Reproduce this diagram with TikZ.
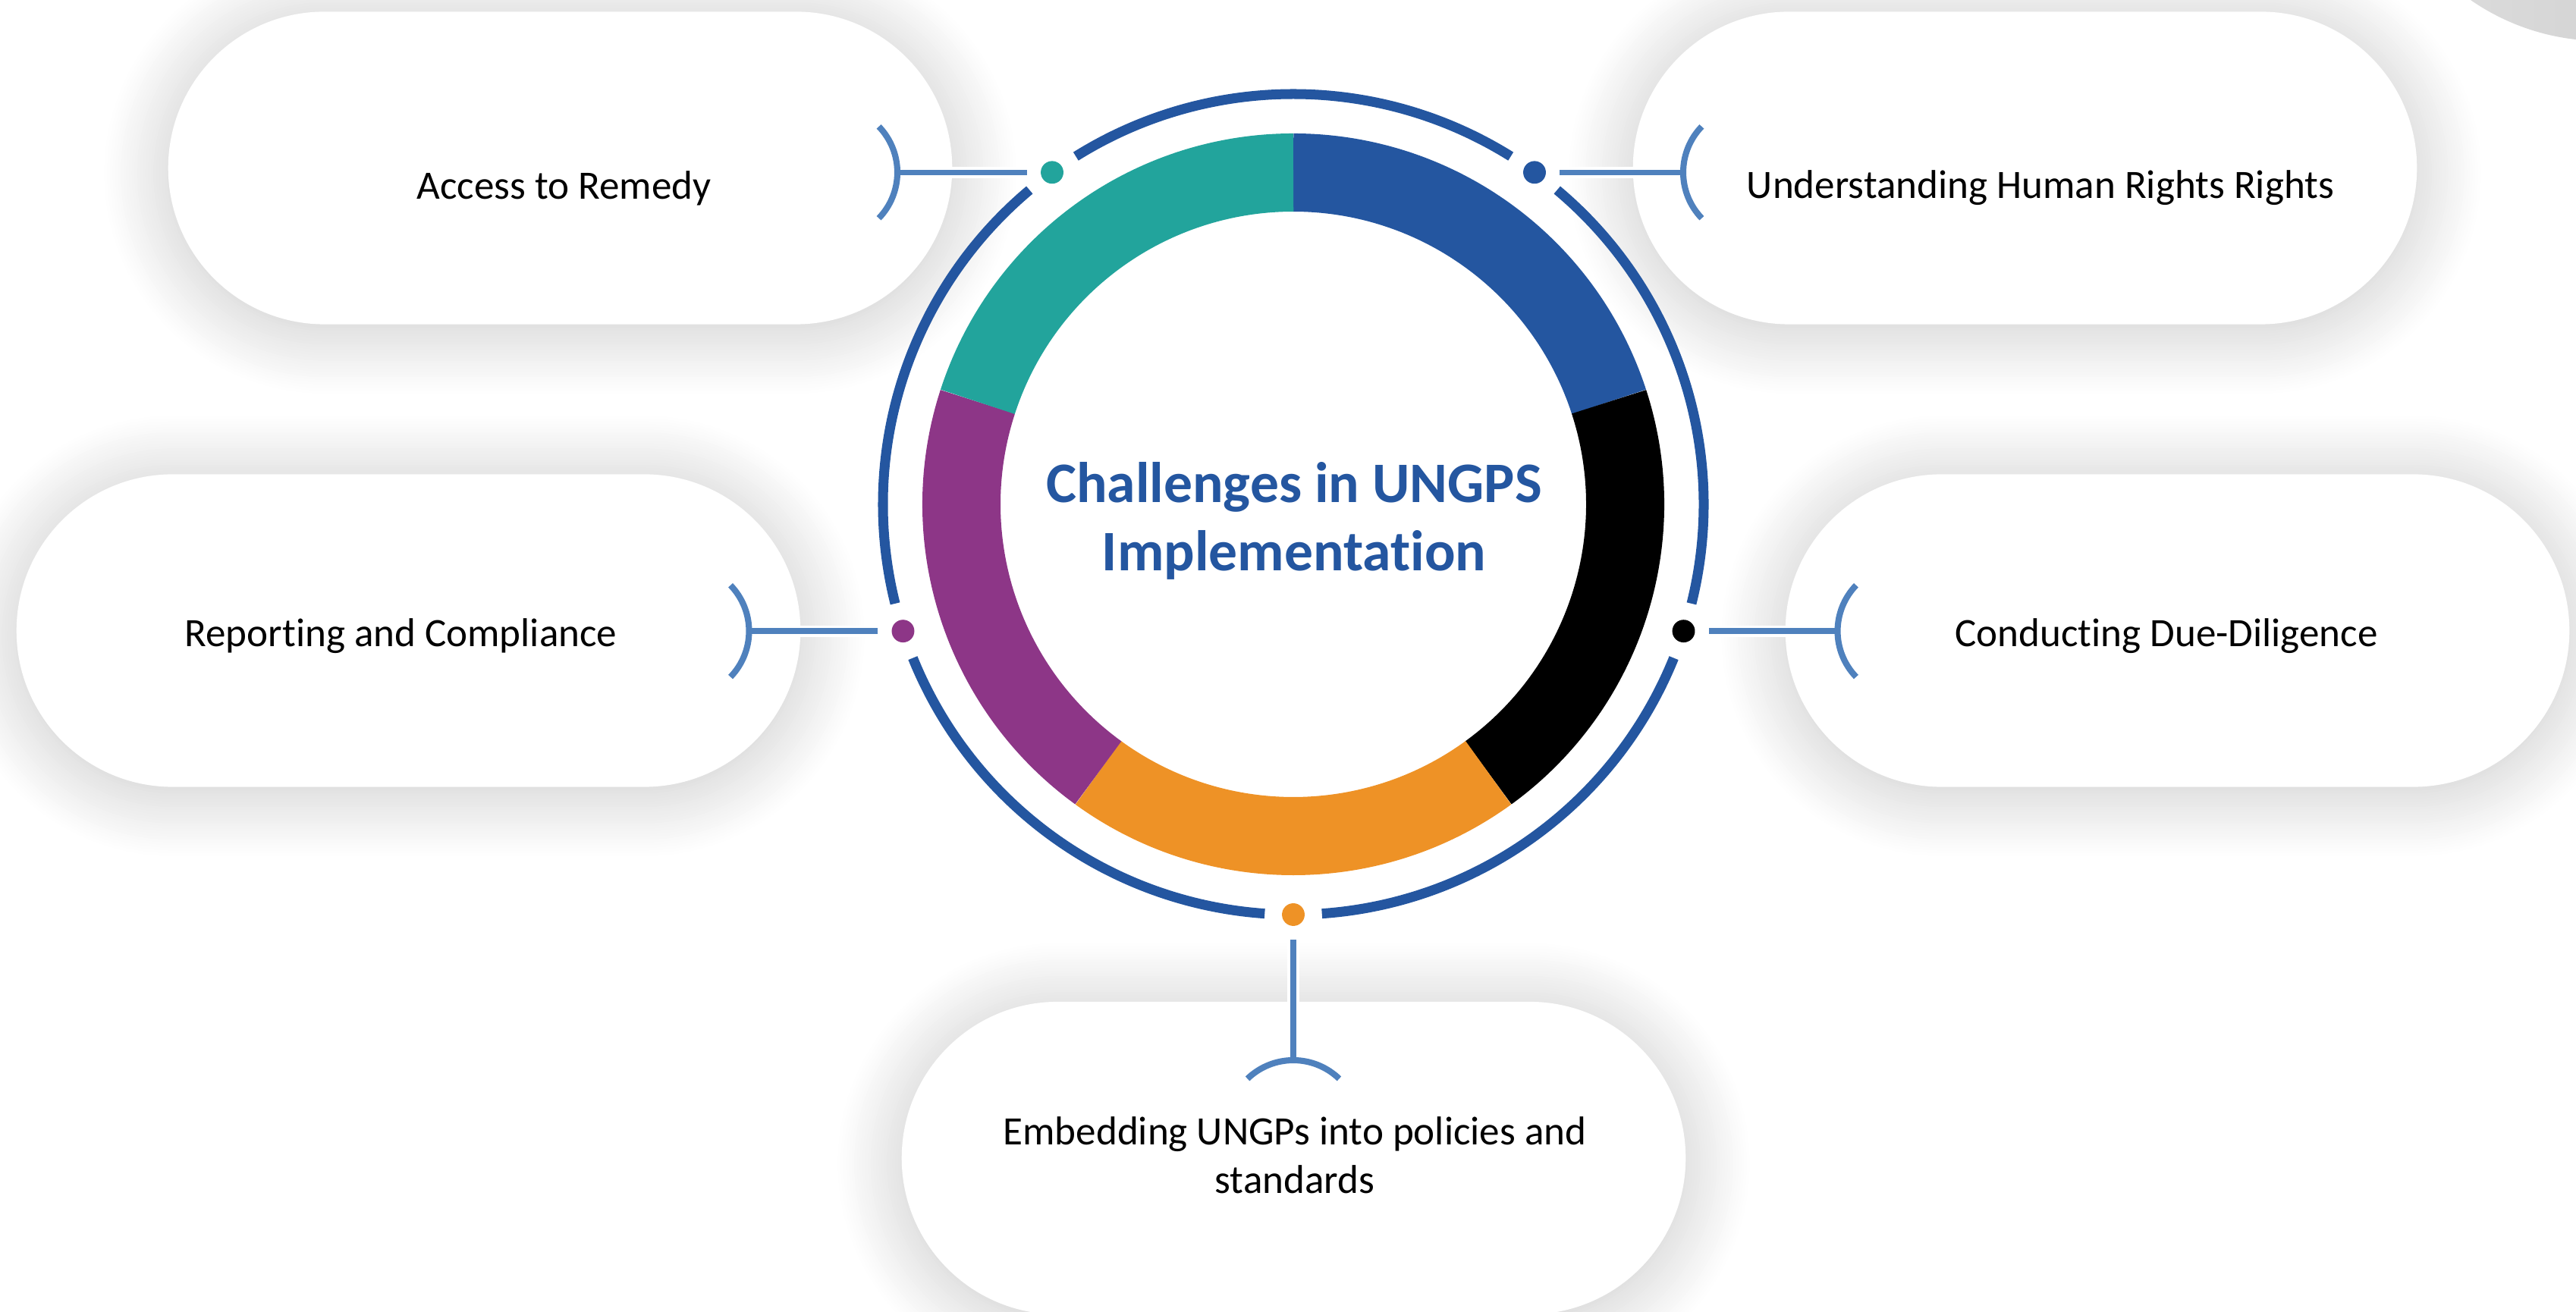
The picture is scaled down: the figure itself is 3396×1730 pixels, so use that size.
\documentclass[tikz,border=0pt]{standalone}
\usepackage{fontspec}
\setmainfont{Carlito}[Ligatures=NoCommon]
\usetikzlibrary{calc,shadows.blur}
\definecolor{ringblue}{RGB}{36,86,160}
\definecolor{segteal}{RGB}{34,164,156}
\definecolor{segpurple}{RGB}{141,54,135}
\definecolor{segorange}{RGB}{238,146,38}
\definecolor{linkblue}{RGB}{79,129,189}
\tikzset{
  pill/.style={fill=white, rounded corners=2.06cm, minimum width=10.33cm, minimum height=4.12cm, inner sep=0pt,
    blur shadow={shadow xshift=0pt, shadow yshift=-2pt, shadow blur radius=24pt, shadow opacity=22, shadow blur steps=24}},
  seg/.style={line width=29.3pt},
  ring/.style={draw=ringblue, line width=3.7pt},
  dot/.style={circle, minimum size=8.5pt, inner sep=0pt},
  link/.style={draw=linkblue, line width=2.1pt, shorten <=5pt, preaction={draw=white, line width=4.3pt}},
  bracket/.style={draw=linkblue, line width=2.3pt},
  lbl/.style={font=\fontsize{15.1pt}{18.2pt}\selectfont, align=center, inner sep=0pt},
  hubtitle/.style={font=\bfseries\fontsize{21.5pt}{25.5pt}\selectfont, text=ringblue, align=center, inner sep=0pt}
}
\begin{document}
\begin{tikzpicture}[x=0.01cm, y=0.01cm]
  \useasboundingbox (0,0) rectangle (3396,1730);
  % corner blob, top right
  \shade[left color=gray!25, right color=gray!42] (3430,1980) circle (304);

  % the five boxes
  \node[pill] (remedy)    at (738.5,1508.5) {};
  \node[pill] (rights)    at (2669.5,1508.5) {};
  \node[pill] (reporting) at (538.5,898.5) {};
  \node[pill] (diligence) at (2870.5,898.5) {};
  \node[pill] (embedding) at (1705.5,203) {};

  % donut
  \coordinate (hub) at (1705,1065);
  \draw[seg, ringblue]  (hub) ++(90:437.5)   arc[start angle=90,   end angle=18,   radius=437.5];
  \draw[seg, black]     (hub) ++(18:437.5)   arc[start angle=18,   end angle=-54,  radius=437.5];
  \draw[seg, segorange] (hub) ++(-54:437.5)  arc[start angle=-54,  end angle=-126, radius=437.5];
  \draw[seg, segpurple] (hub) ++(-126:437.5) arc[start angle=-126, end angle=-198, radius=437.5];
  \draw[seg, segteal]   (hub) ++(162:437.5)  arc[start angle=162,  end angle=90,   radius=437.5];

  % outer ring with gaps at the dots
  \draw[ring] (hub) ++(58:541)  arc[start angle=58,  end angle=122, radius=541];
  \draw[ring] (hub) ++(130:541) arc[start angle=130, end angle=194, radius=541];
  \draw[ring] (hub) ++(202:541) arc[start angle=202, end angle=266, radius=541];
  \draw[ring] (hub) ++(274:541) arc[start angle=274, end angle=338, radius=541];
  \draw[ring] (hub) ++(346:541) arc[start angle=346, end angle=410, radius=541];

  \node[dot, fill=ringblue]  (d-rights)    at ($(hub)+(54:541)$)  {};
  \node[dot, fill=segteal]   (d-remedy)    at ($(hub)+(126:541)$) {};
  \node[dot, fill=segpurple] (d-reporting) at ($(hub)+(198:541)$) {};
  \node[dot, fill=segorange] (d-embedding) at ($(hub)+(270:541)$) {};
  \node[dot, fill=black]     (d-diligence) at ($(hub)+(342:541)$) {};

  % connectors
  \coordinate (t-remedy)    at ($(d-remedy)+(-204,0)$);
  \coordinate (t-rights)    at ($(d-rights)+(196,0)$);
  \coordinate (t-reporting) at ($(d-reporting)+(-203,0)$);
  \coordinate (t-diligence) at ($(d-diligence)+(203,0)$);
  \coordinate (t-embedding) at ($(d-embedding)+(0,-192)$);
  \draw[link] (d-remedy)    -- (t-remedy);
  \draw[link] (d-rights)    -- (t-rights);
  \draw[link] (d-reporting) -- (t-reporting);
  \draw[link] (d-diligence) -- (t-diligence);
  \draw[link] (d-embedding) -- (t-embedding);
  \draw[bracket] (t-remedy) arc[start angle=0, end angle=44, radius=87]
                 (t-remedy) arc[start angle=0, end angle=-44, radius=87];
  \draw[bracket] (t-rights) arc[start angle=180, end angle=136, radius=87]
                 (t-rights) arc[start angle=180, end angle=224, radius=87];
  \draw[bracket] (t-reporting) arc[start angle=0, end angle=44, radius=87]
                 (t-reporting) arc[start angle=0, end angle=-44, radius=87];
  \draw[bracket] (t-diligence) arc[start angle=180, end angle=136, radius=87]
                 (t-diligence) arc[start angle=180, end angle=224, radius=87];
  \draw[bracket] (t-embedding) arc[start angle=90, end angle=46, radius=87]
                 (t-embedding) arc[start angle=90, end angle=134, radius=87];

  % texts
  \node[hubtitle] (hub-lbl) at (1706,1043) {Challenges in UNGPS\\Implementation};
  \node[lbl] (remedy-lbl)    at (743.5,1482) {Access to Remedy};
  \node[lbl] (rights-lbl)    at (2690,1482)  {Understanding Human Rights Rights};
  \node[lbl] (reporting-lbl) at (528.5,891)  {Reporting and Compliance};
  \node[lbl] (diligence-lbl) at (2856,891)   {Conducting Due-Diligence};
  \node[lbl] (embedding-lbl) at (1707,206.5) {Embedding UNGPs into policies and\\standards};
\end{tikzpicture}
\end{document}
